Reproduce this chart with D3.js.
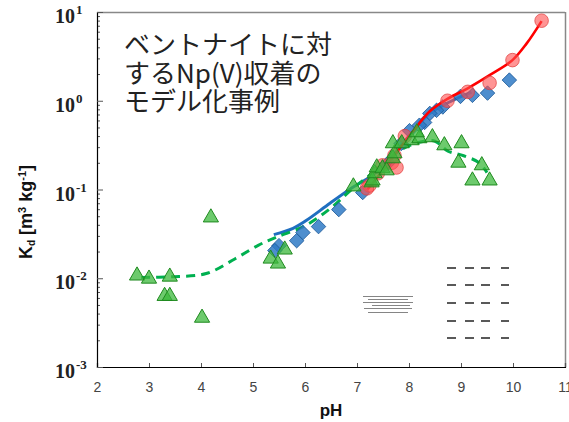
<!DOCTYPE html>
<html><head><meta charset="utf-8">
<script src="https://cdn.jsdelivr.net/npm/d3@7"></script>
<style>html,body{margin:0;padding:0;background:#fff;}svg{display:block;}</style>
</head><body>
<svg id="c" width="569" height="422"></svg>
<script>
// ---- data (pH, Kd [m3/kg]) ----
const redCircles = [[10.55,7.98],[9.99,2.87],[9.55,1.59],[9.13,1.26],[8.74,1.0],[7.92,0.40],[7.72,0.242],[7.67,0.20],[7.76,0.177],[7.49,0.187],[7.40,0.152],[7.24,0.111],[7.19,0.103]];
const blueDiamonds = [[9.93,1.71],[9.51,1.22],[9.22,1.15],[8.99,1.12],[8.65,0.85],[8.53,0.78],[8.40,0.72],[8.30,0.57],[8.20,0.53],[8.01,0.46],[7.85,0.33],[7.6,0.2],[7.11,0.0925],[6.65,0.0594],[6.26,0.0382],[5.96,0.0327],[5.84,0.0265],[5.50,0.0233],[5.42,0.0205]];
const greenTriangles = [[2.77,0.0107],[3.00,0.00987],[3.40,0.0104],[3.30,0.0063],[3.40,0.0063],[4.02,0.00358],[4.19,0.0483],[5.34,0.0166],[5.48,0.0146],[5.61,0.021],[6.93,0.108],[7.28,0.12],[7.30,0.126],[7.34,0.152],[7.38,0.177],[7.49,0.173],[7.57,0.164],[7.69,0.224],[7.72,0.255],[7.69,0.331],[7.86,0.331],[8.05,0.358],[8.20,0.377],[8.15,0.44],[8.45,0.387],[8.68,0.314],[9.01,0.331],[8.95,0.20],[9.40,0.187],[9.22,0.126],[9.55,0.126]];
const redModel = [[7.2,0.10],[7.5,0.165],[7.8,0.28],[8.1,0.47],[8.4,0.76],[8.74,1.05],[9.13,1.38],[9.55,1.94],[9.99,2.87],[10.26,4.4],[10.55,7.9]];
const blueModel = [[5.4,0.031],[5.77,0.0365],[6.03,0.045],[6.48,0.07],[6.92,0.106],[7.3,0.145],[7.7,0.245],[8.0,0.40],[8.4,0.72],[8.8,0.98],[9.2,1.25]];
const greenModel = [[2.85,0.0102],[3.4,0.0104],[4.1,0.0113],[4.65,0.0165],[5.1,0.0235],[5.45,0.029],[6.0,0.039],[6.5,0.062],[6.92,0.103],[7.4,0.17],[7.8,0.27],[8.2,0.34],[8.5,0.35],[8.75,0.27],[9.05,0.24],[9.35,0.20],[9.5,0.155]];
const xTicks = [2,3,4,5,6,7,8,9,10,11];
const yDecades = [1e-3,1e-2,1e-1,1e0,1e1];
const yExponents = ["-3","-2","-1","0","1"];
const titleLines = ["ベントナイトに対","するNp(V)収着の","モデル化事例"];
const xLabel = "pH";

const svg = d3.select("#c");
const x = d3.scaleLinear().domain([2,11]).range([97,565]);
const y = d3.scaleLog().domain([1e-3,10]).range([367,12]);

// frame top/right
svg.append("line").attr("x1",97).attr("x2",565).attr("y1",12.5).attr("y2",12.5).attr("stroke","#888").attr("stroke-width",1.5);
svg.append("line").attr("x1",565.5).attr("x2",565.5).attr("y1",12).attr("y2",367).attr("stroke","#888").attr("stroke-width",1.5);

// x axis
const gx = svg.append("g").attr("transform","translate(0,367)")
  .call(d3.axisBottom(x).tickValues(xTicks).tickSize(-4).tickPadding(15).tickFormat(d3.format("d")));
gx.select(".domain").attr("stroke","#000").attr("stroke-width",1.2);
gx.selectAll(".tick line").attr("stroke","#555");
gx.selectAll("text").attr("font-family","Liberation Sans, Arial, sans-serif").attr("font-size",14).attr("fill","#444");

// y axis minor
const minor = [];
for (let e=-3;e<1;e++) for (let m=2;m<10;m++) minor.push(m*Math.pow(10,e));
const gym = svg.append("g").attr("transform","translate(97,0)")
  .call(d3.axisLeft(y).tickValues(minor).tickSize(-3).tickFormat(""));
gym.select(".domain").remove();
gym.selectAll(".tick line").attr("stroke","#555");
const gy = svg.append("g").attr("transform","translate(97,0)")
  .call(d3.axisLeft(y).tickValues(yDecades).tickSize(-6).tickFormat(""));
gy.select(".domain").attr("stroke","#000").attr("stroke-width",1.2);
gy.selectAll(".tick line").attr("stroke","#555");

// y tick labels 10^n
yDecades.forEach((v,i)=>{
  svg.append("text").attr("x",75).attr("y",y(v)+11)
    .attr("text-anchor","end").attr("font-family","Liberation Serif, Times New Roman, serif")
    .attr("font-weight","bold").attr("font-size",20).attr("fill","#222").text("10");
  svg.append("text").attr("x",76).attr("y",y(v)+2)
    .attr("font-family","Liberation Serif, Times New Roman, serif")
    .attr("font-weight","bold").attr("font-size",13).attr("fill","#222").text(yExponents[i]);
});

// axis titles
svg.append("text").attr("x",331).attr("y",416).attr("text-anchor","middle")
  .attr("font-family","Liberation Sans, Arial, sans-serif").attr("font-weight","bold").attr("font-size",17).attr("fill","#111").text(xLabel);
const yl = svg.append("text").attr("transform","translate(32,212) rotate(-90)").attr("text-anchor","middle")
  .attr("font-family","Liberation Sans, Arial, sans-serif").attr("font-weight","bold").attr("font-size",18).attr("fill","#111");
yl.append("tspan").text("K");
yl.append("tspan").attr("font-size",10).attr("dy",3).text("d");
yl.append("tspan").attr("dy",-3).text(" [m");
yl.append("tspan").attr("font-size",11).attr("dy",-6).text("3");
yl.append("tspan").attr("dy",6).text(" kg");
yl.append("tspan").attr("font-size",11).attr("dy",-6).text("-1");
yl.append("tspan").attr("dy",6).text("]");

// garbled legend remnants (decorative)
const lg = svg.append("g").attr("fill","#222");
[[363,296,50],[368,299,40],[363,302,50],[372,305,38],[364,308,48],[368,312,40]].forEach(d=>{
  lg.append("rect").attr("x",d[0]).attr("y",d[1]).attr("width",d[2]).attr("height",1).attr("fill","#666").attr("opacity",0.8);
});
[268,285,303,321,338].forEach(yy=>{
  [[447,9],[465,9],[481,9],[501,8]].forEach(d=>{
    lg.append("rect").attr("x",d[0]).attr("y",yy-1).attr("width",d[1]).attr("height",2).attr("opacity",0.75);
  });
});

// lines
const line = d3.line().x(d=>x(d[0])).y(d=>y(d[1])).curve(d3.curveCatmullRom.alpha(0.5));
svg.append("path").datum(blueModel).attr("d",line).attr("fill","none").attr("stroke","#1f6fc0").attr("stroke-width",3);
svg.append("path").datum(greenModel).attr("d",line).attr("fill","none").attr("stroke","#00b050").attr("stroke-width",3).attr("stroke-dasharray","9,6");

// diamonds
svg.append("g").selectAll("path").data(blueDiamonds).join("path")
  .attr("d",d3.symbol().type(d3.symbolSquare).size(105))
  .attr("transform",d=>`translate(${x(d[0])},${y(d[1])}) rotate(45)`)
  .attr("fill","#2f7ac6").attr("fill-opacity",0.85).attr("stroke","#1c5a9a").attr("stroke-width",0.8);

svg.append("path").datum(redModel).attr("d",line).attr("fill","none").attr("stroke","#ff0000").attr("stroke-width",2.6);

// circles
svg.append("g").selectAll("circle").data(redCircles).join("circle")
  .attr("cx",d=>x(d[0])).attr("cy",d=>y(d[1])).attr("r",6.8)
  .attr("fill","#ff4d4d").attr("fill-opacity",0.6).attr("stroke","#e03a3a").attr("stroke-opacity",0.7).attr("stroke-width",1);

// triangles
svg.append("g").selectAll("path").data(greenTriangles).join("path")
  .attr("d",d3.symbol().type(d3.symbolTriangle).size(100))
  .attr("transform",d=>`translate(${x(d[0])},${y(d[1])})`)
  .attr("fill","#3cb83c").attr("fill-opacity",0.75).attr("stroke","#1f8a1f").attr("stroke-width",1);

// title text
const tt = svg.append("text").attr("font-family","Noto Sans CJK JP, sans-serif").attr("font-size",26).attr("fill","#222");
titleLines.forEach((s,i)=>tt.append("tspan").attr("x",124).attr("y",54+i*28.5).text(s));
</script>
</body></html>
